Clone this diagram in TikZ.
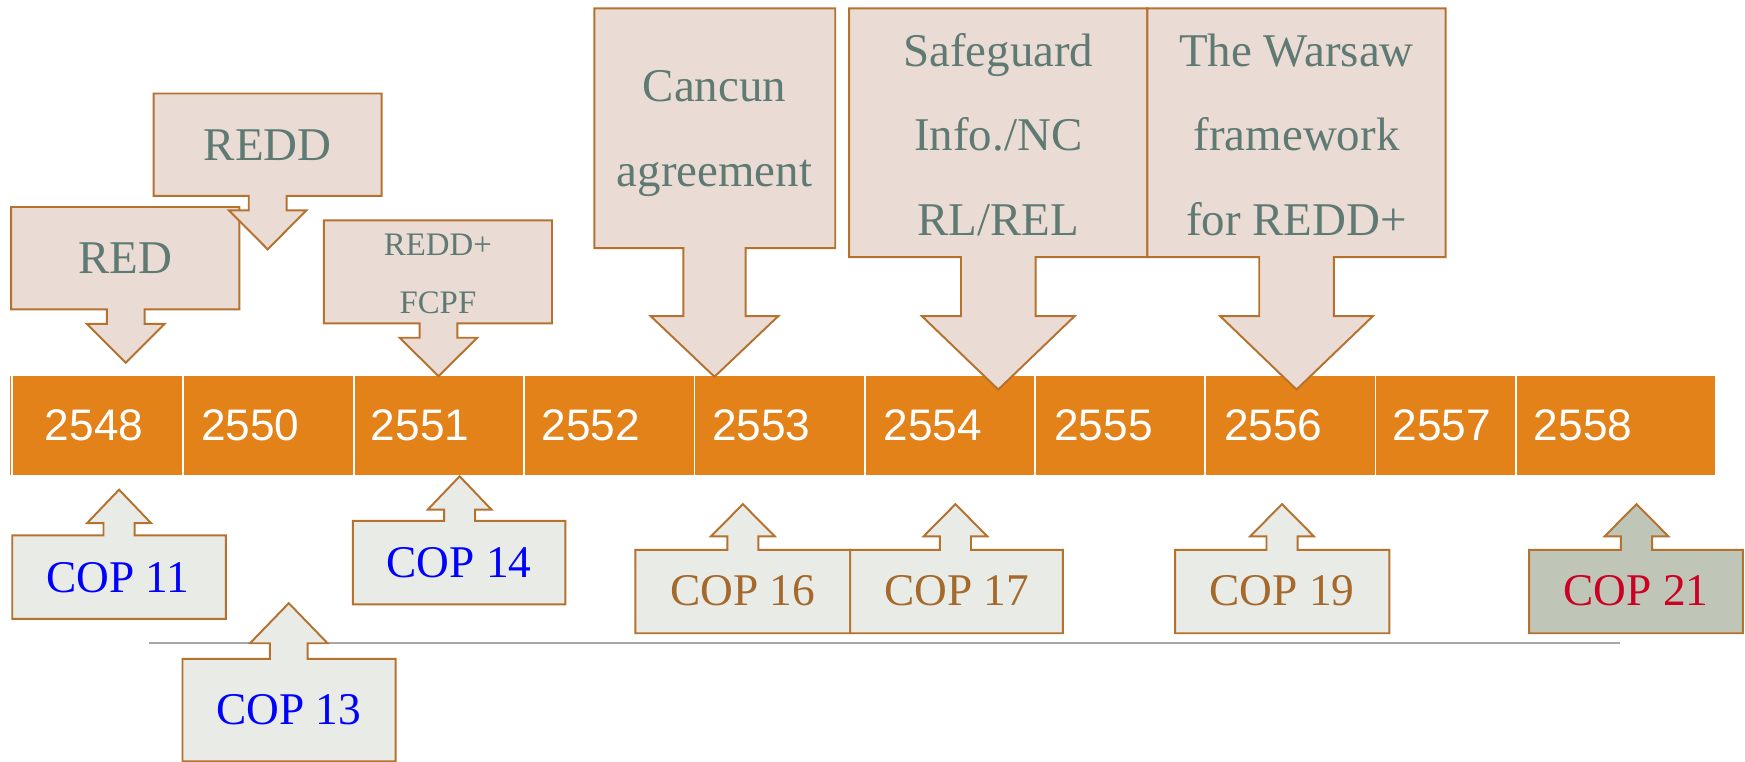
\documentclass[tikz,border=0pt]{standalone}
\usepackage{fontspec}
\setmainfont{Liberation Serif}
\newfontfamily\yearfont{Liberation Sans}
\usepackage{tikz}
\usetikzlibrary{positioning}

\definecolor{barorange}{HTML}{E4821A}
\definecolor{callpink}{HTML}{EADCD5}
\definecolor{callgrey}{HTML}{E8EBE6}
\definecolor{callsage}{HTML}{BFC5B7}
\definecolor{callbrown}{HTML}{B5712E}
\definecolor{calltext}{HTML}{5E7A73}
\definecolor{copbrown}{HTML}{A5692C}
\definecolor{copred}{HTML}{CC0022}

% box with an arrow: style, x1, attach y, x2, far y, tip x, shaft half width, head y, tip y
\newcommand{\calloutbox}[9]{%
  \draw[#1] (#2,#3) -- ({#6-#7},#3) -- ({#6-#7},#8) -- ({#6-2.05*#7},#8)
    -- (#6,#9) -- ({#6+2.05*#7},#8) -- ({#6+#7},#8) -- ({#6+#7},#3)
    -- (#4,#3) -- (#4,#5) -- (#2,#5) -- cycle;}

\begin{document}
\begin{tikzpicture}[
    x=0.02cm, y=-0.02cm,
    calltop/.style = {fill=callpink, draw=callbrown, line width=1pt},
    callbot/.style = {fill=callgrey, draw=callbrown, line width=1pt},
    toptext/.style = {text=calltext, align=center, inner sep=0pt,
                      font=\fontsize{24}{43.2}\selectfont},
    coptext/.style = {inner sep=0pt, font=\fontsize{23.2}{28}\selectfont},
    year/.style = {text=white, anchor=west, inner sep=0pt,
                   font=\yearfont\fontsize{22.6}{27}\selectfont}
  ]
  \useasboundingbox (0,0) rectangle (1568,684);

  % time line
  \fill[barorange] (9,338) rectangle (1541,427);
  \foreach \x in {11,164.5,318,471,624,777,930,1083,1236,1362}
    \draw[white, line width=0.8pt] (\x,338) -- (\x,427);
  \foreach \x/\yr in {40/2548, 180.5/2550, 333/2551, 486.5/2552, 639.5/2553,
                      793.5/2554, 947/2555, 1099.5/2556, 1251/2557, 1378/2558}
    \node[year] (y\yr) at (\x,382.5) {\yr};

  \draw[gray!70, line width=1pt] (134,578) -- (1456,578);

  % events above
  \calloutbox{calltop}{10}{278}{215}{186}{113}{17}{291}{326}
  \calloutbox{calltop}{138}{176}{343}{84}{240.5}{17}{189}{224}
  \calloutbox{calltop}{291}{290.5}{496}{198}{394}{17}{303.5}{338}
  \calloutbox{calltop}{534}{223}{750.5}{7.5}{642}{28}{284}{338.5}
  \calloutbox{calltop}{763}{231}{1031}{7.5}{897}{33.5}{284}{350}
  \calloutbox{calltop}{1031}{231}{1299}{7.5}{1165}{33.5}{284}{350}

  \node[toptext] (red) at (112.5,232) {RED};
  \node[toptext] (redd) at (240.5,130) {REDD};
  \node[toptext, font=\fontsize{16.8}{29.8}\selectfont] (reddplus) at (393.5,246) {REDD+\\FCPF};
  \node[toptext] (cancun) at (642,120) {Cancun\\agreement};
  \node[toptext] (safeguard) at (897,121) {Safeguard\\Info./NC\\RL/REL};
  \node[toptext] (warsaw) at (1165,121) {The Warsaw\\framework\\for REDD+};

  % conferences below
  \calloutbox{callbot}{11}{481}{203}{556}{107}{14}{470}{440}
  \calloutbox{callbot}{164}{592}{355.5}{684}{259.5}{17}{578}{542}
  \calloutbox{callbot}{317}{468}{508}{543}{413}{14}{458}{428}
  \calloutbox{callbot}{571}{494}{764}{569}{667.5}{14}{482}{453}
  \calloutbox{callbot}{764}{494}{955}{569}{858.5}{14}{482}{453}
  \calloutbox{callbot}{1056}{494}{1248.5}{569}{1152}{14}{482}{453}
  \calloutbox{callbot, fill=callsage}{1374}{494}{1566}{569}{1470.5}{14}{482}{453}

  \node[coptext, text=blue] (cop11) at (106,519) {COP 11};
  \node[coptext, text=blue] (cop13) at (259.5,638) {COP 13};
  \node[coptext, text=blue] (cop14) at (412.5,505.5) {COP 14};
  \node[coptext, text=copbrown] (cop16) at (667.5,531) {COP 16};
  \node[coptext, text=copbrown] (cop17) at (859.5,531) {COP 17};
  \node[coptext, text=copbrown] (cop19) at (1152,531) {COP 19};
  \node[coptext, text=copred] (cop21) at (1470,531) {COP 21};
\end{tikzpicture}
\end{document}
